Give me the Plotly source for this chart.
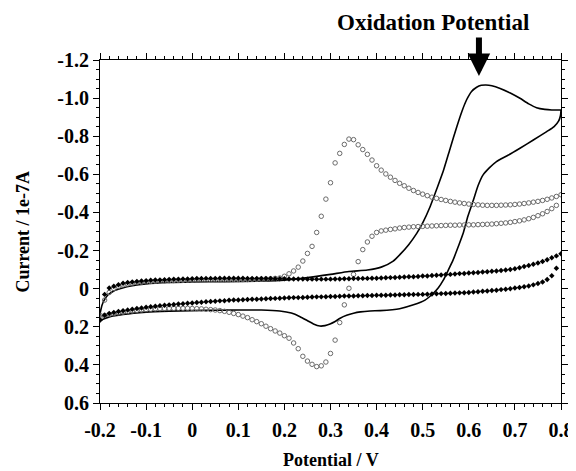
import plotly.graph_objects as go

# Potential grid for the marker curves (V)
scan_fwd_v = [-0.20, -0.19, -0.18, -0.17, -0.16, -0.15, -0.14, -0.13, -0.12, -0.11,
              -0.10, -0.09, -0.08, -0.07, -0.06, -0.05, -0.04, -0.03, -0.02, -0.01,
              0.00, 0.01, 0.02, 0.03, 0.04, 0.05, 0.06, 0.07, 0.08, 0.09,
              0.10, 0.11, 0.12, 0.13, 0.14, 0.15, 0.16, 0.17, 0.18, 0.19,
              0.20, 0.21, 0.22, 0.23, 0.24, 0.25, 0.26, 0.27, 0.28, 0.29,
              0.30, 0.31, 0.32, 0.33, 0.34, 0.35, 0.36, 0.37, 0.38, 0.39,
              0.40, 0.41, 0.42, 0.43, 0.44, 0.45, 0.46, 0.47, 0.48, 0.49,
              0.50, 0.51, 0.52, 0.53, 0.54, 0.55, 0.56, 0.57, 0.58, 0.59,
              0.60, 0.61, 0.62, 0.63, 0.64, 0.65, 0.66, 0.67, 0.68, 0.69,
              0.70, 0.71, 0.72, 0.73, 0.74, 0.75, 0.76, 0.77, 0.78, 0.79,
              0.80]
scan_rev_v = [0.79, 0.78, 0.77, 0.76, 0.75, 0.74, 0.73, 0.72, 0.71, 0.70,
              0.69, 0.68, 0.67, 0.66, 0.65, 0.64, 0.63, 0.62, 0.61, 0.60,
              0.59, 0.58, 0.57, 0.56, 0.55, 0.54, 0.53, 0.52, 0.51, 0.50,
              0.49, 0.48, 0.47, 0.46, 0.45, 0.44, 0.43, 0.42, 0.41, 0.40,
              0.39, 0.38, 0.37, 0.36, 0.35, 0.34, 0.33, 0.32, 0.31, 0.30,
              0.29, 0.28, 0.27, 0.26, 0.25, 0.24, 0.23, 0.22, 0.21, 0.20,
              0.19, 0.18, 0.17, 0.16, 0.15, 0.14, 0.13, 0.12, 0.11, 0.10,
              0.09, 0.08, 0.07, 0.06, 0.05, 0.04, 0.03, 0.02, 0.01, 0.00,
              -0.01, -0.02, -0.03, -0.04, -0.05, -0.06, -0.07, -0.08, -0.09, -0.10,
              -0.11, -0.12, -0.13, -0.14, -0.15, -0.16, -0.17, -0.18, -0.19, -0.20]

# Open-circle voltammogram (current / 1e-7 A)
open_fwd_i = [0.14, 0.06, 0.02, 0.0, -0.012, -0.02, -0.025, -0.029, -0.032, -0.034,
              -0.036, -0.038, -0.039, -0.04, -0.041, -0.042, -0.043, -0.044, -0.044, -0.045,
              -0.045, -0.046, -0.046, -0.046, -0.047, -0.047, -0.047, -0.047, -0.047, -0.048,
              -0.048, -0.048, -0.048, -0.049, -0.049, -0.05, -0.051, -0.052, -0.054, -0.056,
              -0.065, -0.078, -0.093, -0.113, -0.145, -0.185, -0.222, -0.295, -0.38, -0.47,
              -0.556, -0.66, -0.71, -0.757, -0.785, -0.782, -0.755, -0.73, -0.705, -0.675,
              -0.645, -0.622, -0.602, -0.585, -0.568, -0.553, -0.54, -0.527, -0.515, -0.505,
              -0.496, -0.488, -0.48, -0.474, -0.468, -0.463, -0.458, -0.454, -0.45, -0.447,
              -0.444, -0.442, -0.44, -0.438, -0.437, -0.437, -0.437, -0.438, -0.439, -0.44,
              -0.442, -0.444, -0.447, -0.45, -0.454, -0.458, -0.463, -0.469, -0.476, -0.484,
              -0.493]
open_rev_i = [-0.437, -0.42, -0.405, -0.393, -0.383, -0.374, -0.367, -0.361, -0.356, -0.352,
              -0.348, -0.345, -0.343, -0.341, -0.339, -0.338, -0.337, -0.336, -0.335, -0.335,
              -0.334, -0.334, -0.333, -0.333, -0.332, -0.331, -0.33, -0.329, -0.328, -0.327,
              -0.326, -0.325, -0.323, -0.321, -0.318, -0.314, -0.311, -0.307, -0.303, -0.295,
              -0.275, -0.245, -0.205, -0.142, -0.075, -0.002, 0.085, 0.178, 0.27, 0.34,
              0.385, 0.405, 0.409, 0.397, 0.38, 0.355, 0.315, 0.285, 0.26, 0.247,
              0.233, 0.222, 0.21, 0.197, 0.184, 0.173, 0.163, 0.152, 0.144, 0.136,
              0.13, 0.124, 0.119, 0.115, 0.112, 0.11, 0.108, 0.106, 0.105, 0.104,
              0.103, 0.103, 0.103, 0.103, 0.103, 0.104, 0.105, 0.106, 0.108, 0.11,
              0.112, 0.114, 0.117, 0.12, 0.123, 0.127, 0.131, 0.135, 0.14, 0.15]

# Filled-marker voltammogram (background)
fill_fwd_i = [0.165, 0.03, -0.004, -0.013, -0.021, -0.028, -0.032, -0.035, -0.038, -0.04,
              -0.042, -0.044, -0.045, -0.046, -0.047, -0.048, -0.049, -0.05, -0.051, -0.051,
              -0.052, -0.053, -0.053, -0.054, -0.054, -0.054, -0.055, -0.055, -0.055, -0.055,
              -0.055, -0.055, -0.054, -0.054, -0.054, -0.053, -0.053, -0.053, -0.052, -0.052,
              -0.052, -0.051, -0.051, -0.051, -0.051, -0.05, -0.05, -0.05, -0.05, -0.05,
              -0.05, -0.051, -0.051, -0.052, -0.052, -0.053, -0.053, -0.054, -0.054, -0.055,
              -0.055, -0.056, -0.057, -0.058, -0.059, -0.06, -0.061, -0.062, -0.063, -0.064,
              -0.066, -0.067, -0.069, -0.07, -0.072, -0.074, -0.075, -0.077, -0.079, -0.08,
              -0.082, -0.084, -0.085, -0.087, -0.089, -0.091, -0.093, -0.095, -0.098, -0.101,
              -0.105, -0.11, -0.116, -0.122, -0.128, -0.135, -0.143, -0.152, -0.162, -0.172,
              -0.183]
fill_rev_i = [-0.107, -0.068, -0.048, -0.035, -0.027, -0.02, -0.014, -0.01, -0.006, -0.003,
              0.0, 0.003, 0.005, 0.008, 0.01, 0.012, 0.014, 0.016, 0.018, 0.02,
              0.021, 0.022, 0.023, 0.024, 0.025, 0.026, 0.027, 0.028, 0.029, 0.03,
              0.03, 0.031, 0.031, 0.032, 0.032, 0.033, 0.033, 0.034, 0.034, 0.035,
              0.036, 0.036, 0.037, 0.037, 0.038, 0.039, 0.039, 0.04, 0.041, 0.041,
              0.042, 0.043, 0.043, 0.044, 0.045, 0.046, 0.047, 0.047, 0.048, 0.049,
              0.05, 0.051, 0.052, 0.053, 0.054, 0.055, 0.056, 0.057, 0.058, 0.059,
              0.06, 0.061, 0.063, 0.064, 0.066, 0.067, 0.069, 0.071, 0.073, 0.075,
              0.077, 0.079, 0.081, 0.083, 0.085, 0.087, 0.089, 0.092, 0.095, 0.098,
              0.101, 0.104, 0.108, 0.112, 0.116, 0.12, 0.125, 0.13, 0.14, 0.165]

# Solid-line voltammogram
solid_fwd_v = [-0.2, -0.199, -0.193, -0.183, -0.17, -0.153, -0.13, -0.1, -0.05, 0.0,
               0.07, 0.15, 0.2, 0.25, 0.3, 0.34, 0.38, 0.41, 0.436, 0.451,
               0.47, 0.487, 0.5, 0.516, 0.53, 0.545, 0.56, 0.574, 0.585, 0.595,
               0.606, 0.617, 0.627, 0.637, 0.65, 0.668, 0.69, 0.711, 0.73, 0.747,
               0.765, 0.78, 0.8]
solid_fwd_i = [0.165, 0.12, 0.07, 0.033, 0.012, -0.002, -0.015, -0.025, -0.032, -0.035,
               -0.037, -0.04, -0.045, -0.058, -0.075, -0.09, -0.098, -0.113, -0.145, -0.18,
               -0.232, -0.29, -0.345, -0.43, -0.52, -0.62, -0.74, -0.85, -0.93, -0.99,
               -1.035, -1.057, -1.067, -1.069, -1.065, -1.051, -1.027, -0.999, -0.97, -0.95,
               -0.941, -0.938, -0.938]
solid_rev_v = [0.8, 0.799, 0.795, 0.785, 0.769, 0.74, 0.711, 0.685, 0.66, 0.645,
               0.631, 0.62, 0.61, 0.598, 0.588, 0.577, 0.566, 0.555, 0.545, 0.534,
               0.523, 0.505, 0.48, 0.45, 0.408, 0.386, 0.365, 0.35, 0.335, 0.321,
               0.31, 0.299, 0.288, 0.277, 0.263, 0.25, 0.234, 0.215, 0.19, 0.15,
               0.1, 0.05, 0.0, -0.05, -0.1, -0.15, -0.18, -0.2]
solid_rev_i = [-0.938, -0.91, -0.88, -0.85, -0.824, -0.78, -0.737, -0.7, -0.667, -0.635,
               -0.597, -0.54, -0.465, -0.38, -0.292, -0.22, -0.151, -0.095, -0.046, -0.005,
               0.024, 0.06, 0.085, 0.105, 0.115, 0.117, 0.122, 0.129, 0.14, 0.155,
               0.172, 0.185, 0.194, 0.196, 0.185, 0.168, 0.147, 0.128, 0.117, 0.112,
               0.112, 0.113, 0.115, 0.118, 0.123, 0.135, 0.148, 0.165]

x_tick_vals = [-0.2, -0.1, 0.0, 0.1, 0.2, 0.3, 0.4, 0.5, 0.6, 0.7, 0.8]
x_tick_text = ["-0.2", "-0.1", "0", "0.1", "0.2", "0.3", "0.4", "0.5", "0.6", "0.7", "0.8"]
y_tick_vals = [-1.2, -1.0, -0.8, -0.6, -0.4, -0.2, 0.0, 0.2, 0.4, 0.6]
y_tick_text = ["-1.2", "-1.0", "-0.8", "-0.6", "-0.4", "-0.2", "0", "0.2", "0.4", "0.6"]

oxidation_label = "Oxidation Potential"
oxidation_v = 0.622
oxidation_i = -1.116

FONT = "Liberation Serif, Times New Roman, serif"

fig = go.Figure()
fig.add_trace(go.Scatter(
    x=solid_fwd_v + solid_rev_v, y=solid_fwd_i + solid_rev_i,
    mode="lines", line=dict(color="black", width=1.6, shape="spline", smoothing=0.6),
    showlegend=False, hoverinfo="skip"))
fig.add_trace(go.Scatter(
    x=scan_fwd_v + scan_rev_v, y=open_fwd_i + open_rev_i,
    mode="markers",
    marker=dict(symbol="circle-open", size=4.5, color="#6a6a6a", line=dict(width=1, color="#6a6a6a")),
    showlegend=False, hoverinfo="skip", cliponaxis=True))
fig.add_trace(go.Scatter(
    x=scan_fwd_v + scan_rev_v, y=fill_fwd_i + fill_rev_i,
    mode="markers",
    marker=dict(symbol="diamond", size=4.2, color="black"),
    showlegend=False, hoverinfo="skip", cliponaxis=True))

axis_common = dict(
    showline=True, linecolor="black", linewidth=1, mirror="ticks",
    ticks="outside", ticklen=6, tickwidth=1, tickcolor="black",
    showgrid=False, zeroline=False, automargin=False,
    tickfont=dict(family=FONT, size=20, color="black", weight="bold"),
)

fig.update_xaxes(
    range=[-0.2, 0.8], tickmode="array", tickvals=x_tick_vals, ticktext=x_tick_text,
    minor=dict(tick0=-0.2, dtick=0.02, ticks="outside", ticklen=3, tickcolor="black", showgrid=False),
    ticklabelstandoff=3,
    **axis_common)
fig.update_yaxes(
    range=[0.6, -1.2], tickmode="array", tickvals=y_tick_vals, ticktext=y_tick_text,
    minor=dict(tick0=-1.2, dtick=0.05, ticks="outside", ticklen=3, tickcolor="black", showgrid=False),
    ticklabelstandoff=0,
    **axis_common)

fig.add_annotation(
    text="Potential / V", xref="paper", yref="paper", x=0.5, y=-0.166,
    xanchor="center", yanchor="middle", showarrow=False,
    font=dict(family=FONT, size=18, color="black", weight="bold"))
fig.add_annotation(
    text="Current / 1e-7A", xref="paper", yref="paper", x=-0.169, y=0.5,
    xanchor="center", yanchor="middle", textangle=-90, showarrow=False,
    font=dict(family=FONT, size=18, color="black", weight="bold"))
fig.add_annotation(
    text=oxidation_label, xref="paper", yref="paper", x=0.722, y=1.108,
    xanchor="center", yanchor="middle", showarrow=False,
    font=dict(family=FONT, size=23, color="black", weight="bold"))
fig.add_annotation(
    text="", x=oxidation_v, y=oxidation_i, xref="x", yref="y",
    showarrow=True, ax=0, ay=-40, arrowhead=2, arrowsize=0.75, arrowwidth=6,
    arrowcolor="black")

# The page body adds an 8 px margin, so the figure is 8 px smaller than the window
fig.update_layout(
    width=568, height=463,
    margin=dict(l=92, r=15, t=52, b=68, autoexpand=False),
    paper_bgcolor="white", plot_bgcolor="white",
    showlegend=False,
)

fig.write_html("out.html")
